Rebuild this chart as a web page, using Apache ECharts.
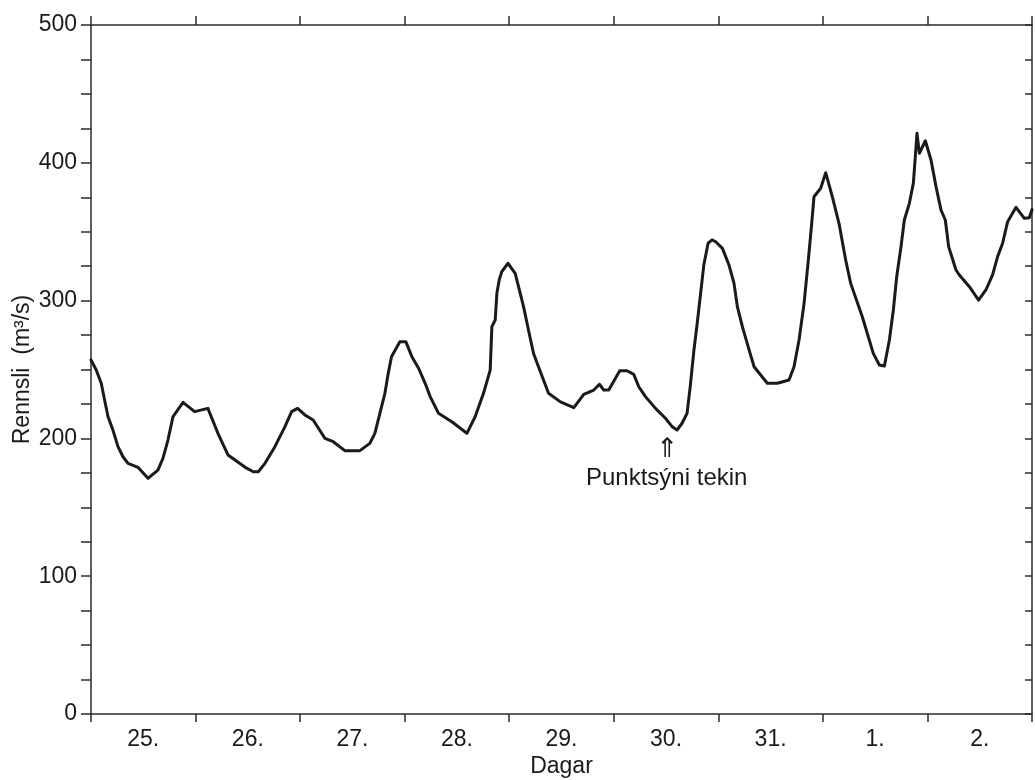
<!DOCTYPE html>
<html>
<head>
<meta charset="utf-8">
<title>Rennsli</title>
<script src="https://cdn.jsdelivr.net/npm/echarts@6/dist/echarts.min.js"></script>
<style>
  html, body { margin: 0; padding: 0; background: #ffffff; }
  #chart { width: 1035px; height: 780px; }
</style>
</head>
<body>
<div id="chart"></div>
<script>
// Day labels along the bottom axis (one band per day)
const dayLabels = ['25.', '26.', '27.', '28.', '29.', '30.', '31.', '1.', '2.'];

// Time in days from the start of the 25th
const timeDays = [
  0.00, 0.05, 0.098, 0.13, 0.163, 0.21, 0.258, 0.306, 0.354, 0.449,
  0.545, 0.64, 0.688, 0.736, 0.784, 0.88, 0.991, 1.118, 1.214, 1.31,
  1.475, 1.552, 1.60, 1.664, 1.759, 1.855, 1.919, 1.976, 2.046, 2.125,
  2.237, 2.317, 2.428, 2.572, 2.667, 2.715, 2.763, 2.811, 2.843, 2.874,
  2.954, 3.011, 3.069, 3.133, 3.196, 3.244, 3.324, 3.451, 3.595, 3.674,
  3.754, 3.818, 3.834, 3.866, 3.882, 3.904, 3.929, 3.987, 4.057, 4.089,
  4.137, 4.184, 4.232, 4.28, 4.376, 4.49, 4.618, 4.713, 4.809, 4.863,
  4.904, 4.952, 5.057, 5.127, 5.191, 5.239, 5.303, 5.399, 5.494, 5.558,
  5.605, 5.653, 5.701, 5.733, 5.765, 5.796, 5.829, 5.861, 5.902, 5.94,
  5.975, 6.039, 6.102, 6.15, 6.182, 6.23, 6.294, 6.342, 6.405, 6.469,
  6.565, 6.676, 6.724, 6.772, 6.82, 6.861, 6.893, 6.915, 6.979, 7.027,
  7.09, 7.154, 7.218, 7.266, 7.377, 7.482, 7.54, 7.588, 7.636, 7.674,
  7.706, 7.747, 7.779, 7.827, 7.865, 7.884, 7.90, 7.923, 7.98, 8.034,
  8.082, 8.13, 8.171, 8.203, 8.273, 8.305, 8.401, 8.489, 8.559, 8.623,
  8.671, 8.719, 8.767, 8.847, 8.927, 8.974, 9.00
];

// Discharge (m3/s)
const flow = [
  257, 249.6, 240, 227.9, 215.7, 206, 194, 186.7, 181.9, 179,
  171, 177, 185.5, 198.8, 215.7, 226.2, 219.4, 221.8, 203.7, 188,
  179, 175.8, 175.8, 181.9, 194, 208.5, 219.4, 221.8, 217, 213.4,
  200.1, 197.6, 191.1, 191.1, 196.4, 203.7, 218.2, 232.7, 247.2, 259.3,
  270.2, 270.2, 259.3, 250.9, 240, 230.3, 218.2, 212.1, 203.7, 215.7,
  232.7, 249.6, 281.1, 285.9, 305.3, 314.9, 321, 327.1, 319.8, 310.1,
  295.6, 278.7, 261.8, 252, 232.7, 226.5, 222.3, 232, 235.1, 239.3,
  235.1, 235.1, 249.1, 249.1, 246.5, 237.5, 230.3, 221.8, 214.6, 208.5,
  206.1, 211, 218.2, 238.8, 262.9, 282.3, 304.1, 325.8, 341.6, 344,
  342.7, 337.9, 325.8, 312.5, 295.6, 281.1, 264.2, 252, 246, 240,
  240, 242.4, 252, 271.4, 298, 329.5, 356.1, 375.4, 381.5, 392.8,
  375.4, 356.1, 329.5, 312.5, 288.3, 261.7, 253.3, 252.5, 271.4, 293.2,
  317.3, 339.1, 358.5, 370.6, 385.1, 404.4, 421.4, 406.9, 416, 402,
  382.7, 365.7, 358.5, 339.1, 322.2, 318.6, 310.1, 300.4, 307.7, 318.6,
  331.9, 341.6, 357.3, 367.7, 359.7, 360.2, 366
];

const yMajor = 100;       // labelled tick step
const annotationText = 'Punktsýni tekin';

const FONT = '"Liberation Sans", Arial, Helvetica, sans-serif';
const AXIS_COLOR = '#2b2b2b';
const TEXT_COLOR = '#1a1a1a';

const chart = echarts.init(document.getElementById('chart'), null, { renderer: 'canvas' });

const axisLine = { show: true, onZero: false, lineStyle: { color: AXIS_COLOR, width: 1.5 } };
const tickStyle = { color: AXIS_COLOR, width: 1.5 };

const option = {
  animation: false,
  backgroundColor: '#ffffff',
  grid: { left: 91, right: 3, top: 25, bottom: 66, containLabel: false, outerBoundsMode: 'none' },
  xAxis: [
    {
      type: 'category',
      data: dayLabels,
      position: 'bottom',
      boundaryGap: true,
      axisLine: axisLine,
      axisTick: { show: true, length: 8, inside: false, lineStyle: tickStyle },
      axisLabel: { fontSize: 23, color: TEXT_COLOR, fontFamily: FONT, margin: 14 },
      splitLine: { show: false },
      name: 'Dagar',
      nameLocation: 'middle',
      nameGap: 41,
      nameMoveOverlap: false,
      nameTextStyle: { fontSize: 23, color: TEXT_COLOR, fontFamily: FONT }
    },
    {
      type: 'category',
      data: dayLabels,
      position: 'top',
      boundaryGap: true,
      axisLine: axisLine,
      axisTick: { show: true, length: 9, inside: false, lineStyle: tickStyle },
      axisLabel: { show: false },
      splitLine: { show: false }
    },
    {
      type: 'value',
      min: 0,
      max: dayLabels.length,
      show: false,
      axisLine: { onZero: false }
    }
  ],
  yAxis: [
    {
      type: 'value',
      position: 'left',
      min: 0,
      max: 500,
      interval: 25,
      axisLine: axisLine,
      axisTick: { show: true, length: 10, inside: false, lineStyle: tickStyle },
      axisLabel: {
        fontSize: 23, color: TEXT_COLOR, fontFamily: FONT, margin: 14,
        formatter: v => (v % yMajor === 0 ? String(v) : '')
      },
      splitLine: { show: false },
      name: 'Rennsli  (m³/s)',
      nameLocation: 'middle',
      nameGap: 57,
      nameMoveOverlap: false,
      nameTextStyle: { fontSize: 23, color: TEXT_COLOR, fontFamily: FONT }
    },
    {
      type: 'value',
      position: 'right',
      min: 0,
      max: 500,
      interval: 25,
      axisLine: axisLine,
      axisTick: { show: true, length: 7, inside: true, lineStyle: tickStyle },
      axisLabel: { show: false },
      splitLine: { show: false }
    }
  ],
  series: [
    {
      type: 'line',
      xAxisIndex: 2,
      yAxisIndex: 0,
      data: timeDays.map((t, i) => [t, flow[i]]),
      showSymbol: false,
      symbol: 'none',
      smooth: false,
      lineStyle: { color: '#1a1a1a', width: 3, join: 'round', cap: 'round' },
      z: 3
    }
  ],
  graphic: [
    {
      type: 'text',
      left: 656,
      top: 436,
      style: { text: '⇑', font: '27px "DejaVu Sans", sans-serif', fill: TEXT_COLOR }
    },
    {
      type: 'text',
      left: 586,
      top: 466,
      style: { text: annotationText, font: '24px ' + FONT, fill: TEXT_COLOR }
    }
  ]
};

chart.setOption(option);
</script>
</body>
</html>
